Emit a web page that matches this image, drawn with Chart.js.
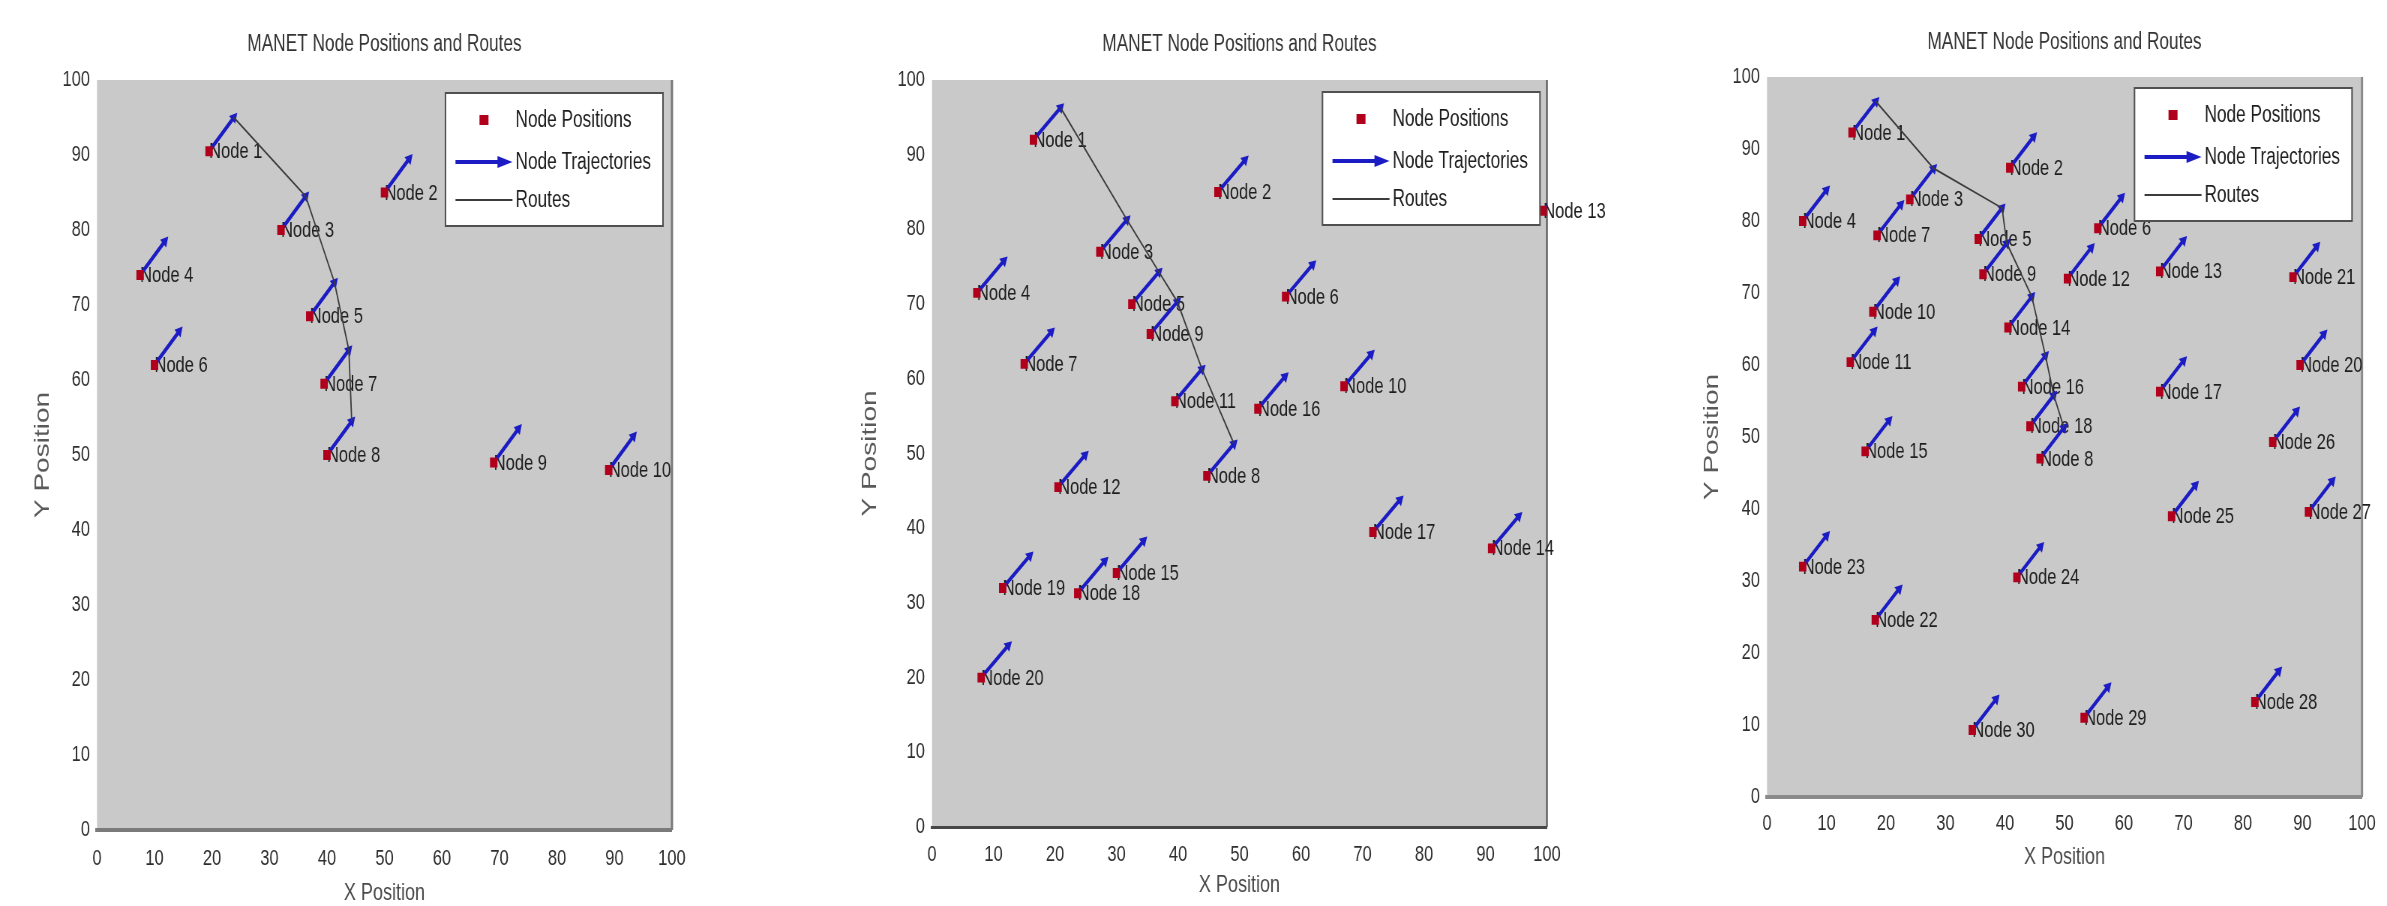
<!DOCTYPE html>
<html>
<head>
<meta charset="utf-8">
<title>MANET Node Positions and Routes</title>
<script src="https://cdn.jsdelivr.net/npm/chart.js"></script>
<style>
    html, body { margin: 0; padding: 0; background: #ffffff; }
    body { width: 2387px; height: 906px; position: relative; overflow: hidden; }
    .panel { position: absolute; top: 0; height: 906px; transform-origin: 0 0; }
</style>
</head>
<body>
<div class="panel" id="panel-10"><canvas id="manet-10"></canvas></div>
<div class="panel" id="panel-20"><canvas id="manet-20"></canvas></div>
<div class="panel" id="panel-30"><canvas id="manet-30"></canvas></div>

<script>
var axisTicks = [0, 10, 20, 30, 40, 50, 60, 70, 80, 90, 100];
var chartTitle = 'MANET Node Positions and Routes';
var legendLabels = ['Node Positions', 'Node Trajectories', 'Routes'];

// 10 nodes
var nodesX10 = [19.5, 50, 32, 7.5, 37, 10, 39.5, 40, 69, 89];
var nodesY10 = [90.5, 85, 80, 74, 68.5, 62, 59.5, 50, 49, 48];
var route10 = [1, 3, 5, 7, 8];
var move10 = [4.3, 4.5];

// 20 nodes
var nodesX20 = [16.5, 46.5, 27.3, 7.3, 32.5, 57.5, 15, 44.7, 35.5, 67, 39.5, 20.5, 99.4, 91, 30, 53, 71.7, 23.7, 11.5, 8];
var nodesY20 = [92, 85, 77, 71.5, 70, 71, 62, 47, 66, 59, 57, 45.5, 82.5, 37.3, 34, 56, 39.5, 31.3, 32, 20];
var route20 = [1, 3, 5, 9, 11, 8];
var move20 = [4.4, 4.3];

// 30 nodes (node 19 sits under the legend)
var nodesX30 = [14.3, 40.8, 24, 6, 35.5, 55.6, 18.5, 45.9, 36.3, 17.8, 14, 50.5, 66, 40.5, 16.5,
                42.8, 66, 44.2, 78, 89.6, 88.4, 18.2, 6, 42, 68, 85, 91, 82, 53.3, 34.5];
var nodesY30 = [92.3, 87.4, 83, 80, 77.5, 79, 78, 47, 72.6, 67.4, 60.4, 72, 73, 65.2, 48,
                57, 56.3, 51.5, 90, 60, 72.2, 24.6, 32, 30.5, 39, 49.3, 39.6, 13.2, 11, 9.3];
var route30 = [1, 3, 5, 9, 14, 16, 18, 8];
var move30 = [4.0, 4.3];

var color = {
    node: '#b0001c',
    arrow: '#1c1cc4',
    route: '#3c3c3c',
    plot: '#c9c9c9',
    text: '#1e1e1e',
    tick: '#2e2e2e',
    axisTitle: '#4a4a4a'
};

var FONT = "'Liberation Sans', Arial, sans-serif";

// the original figure is squeezed sideways, so every panel is drawn wider and scaled back
var S = 0.75;

// gray plot area + right edge
var plotBackground = {
    id: 'plotBackground',
    beforeDraw: function (chart) {
        var c = chart.ctx, a = chart.chartArea, o = chart.options.plugins.plotBackground;
        c.save();
        c.fillStyle = color.plot;
        c.fillRect(a.left, a.top, a.right - a.left, a.bottom - a.top);
        c.strokeStyle = o.edge;
        c.lineWidth = o.edgeWidth;
        c.beginPath();
        c.moveTo(a.right, a.top);
        c.lineTo(a.right, a.bottom);
        c.stroke();
        c.restore();
    }
};

// "Node n" text next to every node
var nodeLabels = {
    id: 'nodeLabels',
    beforeDatasetsDraw: function (chart) {
        var c = chart.ctx;
        var meta = chart.getDatasetMeta(0);
        c.save();
        c.font = '22px ' + FONT;
        c.fillStyle = color.text;
        c.textAlign = 'left';
        c.textBaseline = 'middle';
        meta.data.forEach(function (el, i) {
            c.fillText('Node ' + (i + 1), el.x, el.y + 1);
        });
        c.restore();
    }
};

// boxed legend inside the plot, top right
var insideLegend = {
    id: 'insideLegend',
    afterDraw: function (chart) {
        var c = chart.ctx, a = chart.chartArea, o = chart.options.plugins.insideLegend;
        c.save();
        c.font = '23px ' + FONT;
        var textW = 0;
        legendLabels.forEach(function (t) { textW = Math.max(textW, c.measureText(t).width); });
        var w = 82 / S + textW, h = 133;
        var left = a.right - o.gapRight / S - w, top = a.top + o.gapTop;
        c.fillStyle = '#ffffff';
        c.fillRect(left, top, w, h);
        c.strokeStyle = '#505050';
        c.lineWidth = 2;
        c.strokeRect(left, top, w, h);

        var rows = [top + 27, top + 69, top + 107];
        // node square
        c.fillStyle = color.node;
        c.fillRect(left + 34 / S, rows[0] - 5, 9 / S, 10);
        // arrow
        c.strokeStyle = color.arrow;
        c.lineWidth = 4;
        c.beginPath();
        c.moveTo(left + 10 / S, rows[1]);
        c.lineTo(left + 56 / S, rows[1]);
        c.stroke();
        c.fillStyle = color.arrow;
        c.beginPath();
        c.moveTo(left + 67 / S, rows[1]);
        c.lineTo(left + 52 / S, rows[1] - 6);
        c.lineTo(left + 52 / S, rows[1] + 6);
        c.closePath();
        c.fill();
        // route
        c.strokeStyle = color.route;
        c.lineWidth = 2;
        c.beginPath();
        c.moveTo(left + 10 / S, rows[2]);
        c.lineTo(left + 67 / S, rows[2]);
        c.stroke();

        c.fillStyle = color.text;
        c.textAlign = 'left';
        c.textBaseline = 'middle';
        legendLabels.forEach(function (t, i) { c.fillText(t, left + 70 / S, rows[i] + 1); });
        c.restore();
    }
};

function graficoManet(panelId, canvasId, nodesX, nodesY, route, move, box) {

    var panel = document.getElementById(panelId);
    panel.style.left = box.left + 'px';
    panel.style.width = (box.width / S) + 'px';
    panel.style.transform = 'scaleX(' + S + ')';

    var ctx = document.getElementById(canvasId).getContext('2d');

    var positions = [];
    var trajectories = [];
    var routePoints = [];

    for (var i = 0; i < nodesX.length; i++) {
        positions.push({ x: nodesX[i], y: nodesY[i] });
        trajectories.push({ x: nodesX[i], y: nodesY[i] });
        trajectories.push({ x: nodesX[i] + move[0], y: nodesY[i] + move[1] });
        trajectories.push({ x: nodesX[i], y: null });
    }

    route.forEach(function (n) {
        routePoints.push({ x: nodesX[n - 1] + move[0], y: nodesY[n - 1] + move[1] });
    });

    var titleTop = box.titleY - 13.8;

    return new Chart(ctx, {
        type: 'scatter',
        data: {
            datasets: [{
                label: legendLabels[0],
                data: positions,
                pointStyle: 'rect',
                pointRadius: 7,
                pointHoverRadius: 7,
                backgroundColor: color.node,
                borderColor: color.node,
                borderWidth: 0,
                order: 0
            }, {
                type: 'line',
                label: legendLabels[1],
                data: trajectories,
                borderColor: color.arrow,
                backgroundColor: color.arrow,
                borderWidth: 4,
                spanGaps: false,
                clip: 0,
                pointStyle: 'triangle',
                pointBorderWidth: 0,
                pointRadius: function (c) { return c.dataIndex % 3 === 1 ? 6.5 : 0; },
                pointRotation: function (c) {
                    var sx = c.chart.scales.x, sy = c.chart.scales.y;
                    var dx = sx.getPixelForValue(move[0]) - sx.getPixelForValue(0);
                    var dy = sy.getPixelForValue(move[1]) - sy.getPixelForValue(0);
                    return Math.atan2(dx, -dy) * 180 / Math.PI;
                },
                order: 2
            }, {
                type: 'line',
                label: legendLabels[2],
                data: routePoints,
                borderColor: color.route,
                borderWidth: 1.8,
                pointRadius: 0,
                fill: false,
                order: 1
            }]
        },
        options: {
            responsive: true,
            maintainAspectRatio: false,
            animation: false,
            devicePixelRatio: 1,
            layout: {
                padding: {
                    top: 0,
                    left: 0,
                    right: (box.left + box.width - box.plotRight) / S,
                    bottom: 906 - box.plotBottom - 76
                }
            },
            plugins: {
                legend: { display: false },
                tooltip: { enabled: false },
                title: {
                    display: true,
                    text: chartTitle,
                    fullSize: false,
                    color: '#333333',
                    font: { family: FONT, size: 23, weight: 'normal', lineHeight: 1.2 },
                    padding: { top: titleTop, bottom: box.plotTop - titleTop - 27.6 }
                },
                plotBackground: { edge: box.edge, edgeWidth: box.edgeWidth },
                insideLegend: { gapRight: box.legendRight, gapTop: box.legendTop }
            },
            scales: {
                x: {
                    type: 'linear',
                    min: 0,
                    max: 100,
                    afterBuildTicks: function (s) { s.ticks = axisTicks.map(function (v) { return { value: v }; }); },
                    afterFit: function (s) { s.height = 76; },
                    grid: { display: false, drawTicks: false },
                    border: { display: true, color: box.edge, width: box.axisWidth },
                    ticks: {
                        color: color.tick,
                        padding: box.xTickY - box.plotBottom - 11.5,
                        maxRotation: 0,
                        font: { family: FONT, size: 22 }
                    },
                    title: {
                        display: true,
                        text: 'X Position',
                        color: color.axisTitle,
                        font: { family: FONT, size: 24, lineHeight: 1 },
                        padding: { top: 0, bottom: 64 - (box.xTitleY - box.plotBottom) }
                    }
                },
                y: {
                    type: 'linear',
                    min: 0,
                    max: 100,
                    afterBuildTicks: function (s) { s.ticks = axisTicks.map(function (v) { return { value: v }; }); },
                    afterFit: function (s) { s.width = (box.plotLeft - box.left) / S; },
                    grid: { display: false, drawTicks: false },
                    border: { display: false },
                    ticks: {
                        color: color.tick,
                        padding: 7 / S,
                        font: { family: FONT, size: 22 }
                    },
                    title: {
                        display: true,
                        text: 'Y Position',
                        color: '#5a5a5a',
                        font: { family: FONT, size: 28, lineHeight: 1 },
                        padding: { top: (box.yTitleX - box.left) / S - 14, bottom: 0 }
                    }
                }
            }
        },
        plugins: [plotBackground, nodeLabels, insideLegend]
    });
}

graficoManet('panel-10', 'manet-10', nodesX10, nodesY10, route10, move10, {
    left: 0, width: 730, plotLeft: 97, plotRight: 672, plotTop: 80, plotBottom: 830,
    titleY: 45, xTickY: 857, xTitleY: 893, yTitleX: 43,
    edge: '#7a7a7a', edgeWidth: 3, axisWidth: 4, legendRight: 9, legendTop: 13
});

graficoManet('panel-20', 'manet-20', nodesX20, nodesY20, route20, move20, {
    left: 780, width: 850, plotLeft: 932, plotRight: 1547, plotTop: 80, plotBottom: 827,
    titleY: 45, xTickY: 853, xTitleY: 885, yTitleX: 870,
    edge: '#474747', edgeWidth: 2, axisWidth: 3, legendRight: 7, legendTop: 12
});

graficoManet('panel-30', 'manet-30', nodesX30, nodesY30, route30, move30, {
    left: 1640, width: 747, plotLeft: 1767, plotRight: 2362, plotTop: 77, plotBottom: 797,
    titleY: 43, xTickY: 822, xTitleY: 857, yTitleX: 1712,
    edge: '#8a8a8a', edgeWidth: 3, axisWidth: 4, legendRight: 10, legendTop: 11
});
</script>
</body>
</html>
